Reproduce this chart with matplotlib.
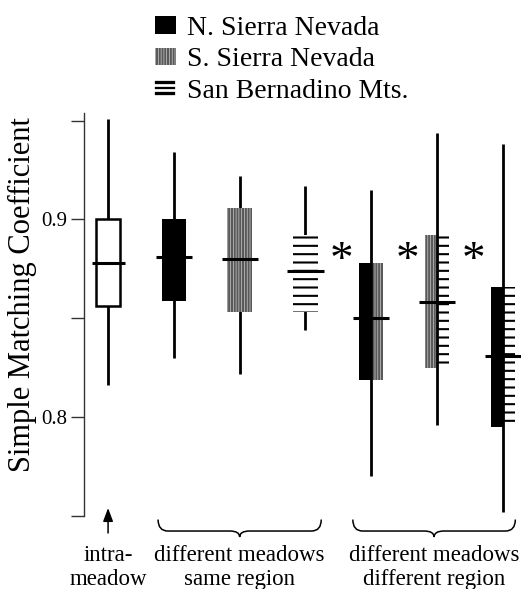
import matplotlib
matplotlib.use("Agg")
import matplotlib.pyplot as plt
from matplotlib.patches import Patch, PathPatch
from matplotlib.lines import Line2D
from matplotlib.path import Path
from matplotlib.transforms import blended_transform_factory

plt.rcParams['font.family'] = ['Liberation Serif', 'DejaVu Serif']
plt.rcParams['hatch.linewidth'] = 1.5

# ---- data ----
groups = ['intra-meadow', 'N. Sierra', 'S. Sierra', 'San Bernadino',
          'N vs S', 'S vs SB', 'N vs SB']
whisker_low = [0.816, 0.830, 0.822, 0.844, 0.770, 0.796, 0.752]
q1 = [0.856, 0.859, 0.853, 0.853, 0.819, 0.825, 0.795]
median = [0.878, 0.881, 0.880, 0.874, 0.850, 0.858, 0.831]
q3 = [0.900, 0.900, 0.906, 0.892, 0.878, 0.892, 0.866]
whisker_high = [0.951, 0.934, 0.922, 0.917, 0.915, 0.944, 0.938]
# fill of left / right half of each box
left_fill = ['open', 'N', 'S', 'SB', 'N', 'S', 'N']
right_fill = ['open', 'N', 'S', 'SB', 'S', 'SB', 'SB']
significant = [False, False, False, False, True, True, True]

legend_labels = ['N. Sierra Nevada', 'S. Sierra Nevada', 'San Bernadino Mts.']
yticks = [0.75, 0.80, 0.85, 0.90, 0.95]
ytick_labels = ['', '0.8', '', '0.9', '']
ylabel = 'Simple Matching Coefficient'
group_labels = [(['intra-', 'meadow'], 0.0),
                (['different meadows', 'same region'], 2.0),
                (['different meadows', 'different region'], 4.95)]

# ---- styles ----
STYLE = {
    'N': dict(facecolor='black', edgecolor='black', linewidth=0),
    'S': dict(facecolor='0.8', edgecolor='0.35', hatch='||||||', linewidth=0),
    'SB': dict(facecolor='white', edgecolor='black', hatch='--', linewidth=0),
    'open': dict(facecolor='white', edgecolor='black', linewidth=1.8),
}

fig = plt.figure(figsize=(5.21, 5.89), dpi=100)
ax = fig.add_axes([0.1607, 0.1241, 0.8393, 0.6844])
ax.set_xlim(-0.37, 6.276)
ax.set_ylim(0.75, 0.954)

half = 0.185
for i in range(len(groups)):
    split = left_fill[i] != right_fill[i]
    # whisker
    ax.vlines(i, whisker_low[i], whisker_high[i], color='black', lw=2.0,
              zorder=4 if split else 2)
    h = q3[i] - q1[i]
    if split:
        ax.bar(i - half / 2, h, width=half, bottom=q1[i], zorder=3,
               **STYLE[left_fill[i]])
        ax.bar(i + half / 2, h, width=half, bottom=q1[i], zorder=3,
               **STYLE[right_fill[i]])
    else:
        ax.bar(i, h, width=2 * half, bottom=q1[i], zorder=3,
               **STYLE[left_fill[i]])
    mw = 0.25 if i == 0 else 0.275
    ax.hlines(median[i], i - mw, i + mw, color='black', lw=2.2, zorder=5)
    if significant[i]:
        ax.text(i - 0.45, 0.8788, '*', fontsize=34, ha='center',
                va='center', color='black')

# axes styling
for s in ['top', 'right', 'bottom']:
    ax.spines[s].set_visible(False)
ax.spines['left'].set_linewidth(1.0)
ax.spines['left'].set_color('#333333')
ax.set_xticks([])
ax.set_yticks(yticks)
ax.set_yticklabels(ytick_labels, fontsize=15)
ax.tick_params(axis='y', length=9.5, width=1.0, color='#333333', pad=2.5)
fig.text(22 / 521, 1 - 295 / 589, ylabel, rotation=90, ha='center',
         va='center', fontsize=22)

# legend
handles = [Patch(**STYLE['N']),
           Patch(facecolor='0.8', edgecolor='0.35', hatch='||||||',
                 linewidth=0),
           Line2D([], [], ls='none', marker=r'$\equiv$', markersize=14,
                  color='black', markeredgewidth=0.2)]
fig.legend(handles, legend_labels, loc='upper left',
           bbox_to_anchor=(155 / 521, 1 - 16 / 589), frameon=False,
           fontsize=20, handlelength=0.75, handleheight=0.6,
           handletextpad=0.4, labelspacing=0.23, borderpad=0,
           borderaxespad=0)

# braces and arrow below the axis
tb = blended_transform_factory(ax.transData, ax.transAxes)


def brace(a, b, ytop=-0.009, yh=-0.0375, ytip=-0.0524, dx=0.15):
    m = (a + b) / 2
    verts = [(a, ytop), (a, yh), (a + dx, yh), (m - dx, yh),
             (m, yh), (m, ytip), (m, yh), (m + dx, yh),
             (b - dx, yh), (b, yh), (b, ytop)]
    codes = [Path.MOVETO, Path.CURVE3, Path.CURVE3, Path.LINETO,
             Path.CURVE3, Path.CURVE3, Path.CURVE3, Path.CURVE3,
             Path.LINETO, Path.CURVE3, Path.CURVE3]
    ax.add_patch(PathPatch(Path(verts, codes), transform=tb, fill=False,
                           lw=1.1, color='black', clip_on=False))


brace(0.76, 3.24)
brace(3.72, 6.19)
ax.annotate('', xy=(0, 0.0196), xycoords=tb, xytext=(0, -0.0424),
            textcoords=tb,
            arrowprops=dict(arrowstyle='-|>,head_length=0.4,head_width=0.15',
                            lw=1.1, color='black', shrinkA=0, shrinkB=0,
                            mutation_scale=20), annotation_clip=False)

tf = blended_transform_factory(ax.transData, fig.transFigure)
for lines, xc in group_labels:
    ax.text(xc, 1 - 561 / 589, lines[0], transform=tf, ha='center',
            va='baseline', fontsize=16.5)
    ax.text(xc, 1 - 585 / 589, lines[1], transform=tf, ha='center',
            va='baseline', fontsize=16.5)

fig.savefig('out.png', dpi=100)
